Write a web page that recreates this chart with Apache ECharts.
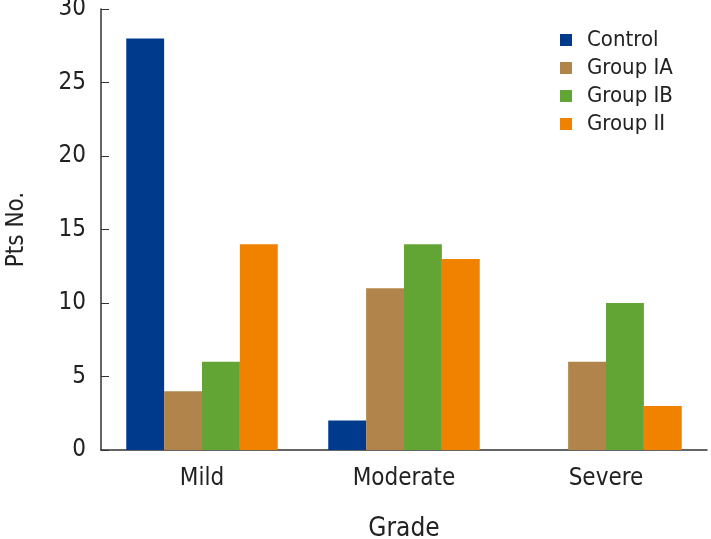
<!DOCTYPE html>
<html><head><meta charset="utf-8">
<script src="https://cdn.jsdelivr.net/npm/echarts@6/dist/echarts.min.js"></script>
<style>html,body{margin:0;padding:0;background:#fff}#c{width:711px;height:539px}</style>
</head><body><div id="c"></div>
<script>
var categories = ['Mild', 'Moderate', 'Severe'];
var seriesNames = ['Control', 'Group IA', 'Group IB', 'Group II'];
var control = [28, 2, 0];
var groupIA = [4, 11, 6];
var groupIB = [6, 14, 10];
var groupII = [14, 13, 3];
var colors = ['#003a8c', '#b0844a', '#63a535', '#f08200'];
var FONT = "'DejaVu Sans Condensed','Liberation Sans Narrow','Roboto',sans-serif";
var values = [control, groupIA, groupIB, groupII];
var chart = echarts.init(document.getElementById('c'), null, {renderer: 'canvas'});
chart.setOption({
  animation: false,
  color: colors,
  textStyle: {fontFamily: FONT},
  grid: {left: 101, right: 4, top: 9, bottom: 89, containLabel: false, outerBoundsMode: 'none'},
  legend: {
    orient: 'vertical', left: 555, top: 24, itemWidth: 12, itemHeight: 12, itemGap: 6,
    icon: 'rect', data: seriesNames,
    textStyle: {fontFamily: FONT, fontSize: 22, color: '#222', padding: [0, 0, 0, 10]}
  },
  xAxis: {
    type: 'category', data: categories,
    name: 'Grade', nameLocation: 'middle', nameGap: 66,
    nameTextStyle: {fontFamily: FONT, fontSize: 26, color: '#222'},
    axisLine: {lineStyle: {color: '#333', width: 1.5}},
    axisTick: {inside: true, length: 8, lineStyle: {color: '#333'}},
    axisLabel: {fontFamily: FONT, fontSize: 24, color: '#222', margin: 17}
  },
  yAxis: {
    type: 'value', min: 0, max: 30, interval: 5,
    name: 'Pts No.', nameLocation: 'middle', nameGap: 72, nameRotate: 90,
    nameTextStyle: {fontFamily: FONT, fontSize: 24, color: '#222'},
    axisLine: {show: true, lineStyle: {color: '#333', width: 1.5}},
    axisTick: {show: true, inside: true, length: 8, lineStyle: {color: '#333'}},
    splitLine: {show: false},
    axisLabel: {fontFamily: FONT, fontSize: 24, color: '#222', margin: 15}
  },
  series: seriesNames.map(function (n, i) {
    return {name: n, type: 'bar', data: values[i], barGap: '0%', barCategoryGap: '25%'};
  })
});
</script></body></html>
